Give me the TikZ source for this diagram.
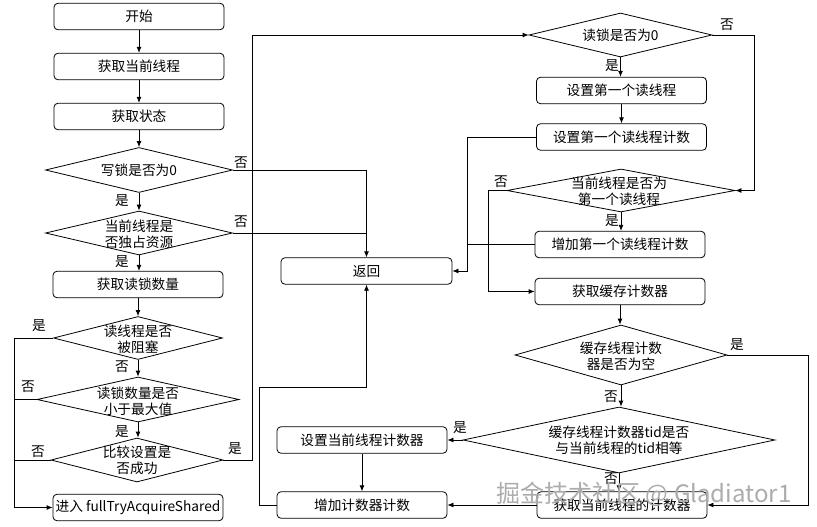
\documentclass[tikz,border=0pt]{standalone}
\usepackage{fontspec}
\setmainfont{Noto Sans CJK SC}
\usetikzlibrary{shapes.geometric,arrows.meta}
\newcommand{\fs}{\fontsize{13.7}{16}\selectfont}
\begin{document}
\begin{tikzpicture}[x=1pt,y=-1pt,
  box/.style={draw, rounded corners=4pt, minimum width=170pt, minimum height=26.5pt, inner sep=0pt, font=\fs, line width=0.8pt},
  dia/.style={draw, diamond, inner sep=0pt, line width=0.8pt},
  txt/.style={align=center, font=\fs, inner sep=0pt},
  lbl/.style={font=\fs, inner sep=0pt},
  ln/.style={draw, line width=0.8pt},
  arr/.style={ln, -{Latex[length=6pt,width=5pt]}}
]
\useasboundingbox (0,0) rectangle (817,527);
\fill[white] (0,0) rectangle (817,527);

% left column
\node[box] (start) at (139,16.5) {开始};
\node[box] (thr) at (139,66.5) {获取当前线程};
\node[box] (st) at (139,116.5) {获取状态};
\node[dia, minimum width=187pt, minimum height=45pt] (d1) at (139,170) {};
\node[txt] (d1t) at (139,170) {写锁是否为0};
\node[dia, minimum width=187pt, minimum height=44pt] (d2) at (139,233) {};
\node[txt] (d2t) at (139,234) {当前线程是\\否独占资源};
\node[box] (rc) at (138,284.5) {获取读锁数量};
\node[dia, minimum width=169pt, minimum height=43pt] (d3) at (138,338) {};
\node[txt] (d3t) at (138,339) {读线程是否\\被阻塞};
\node[dia, minimum width=202pt, minimum height=45pt] (d4) at (138,399.5) {};
\node[txt] (d4t) at (138,401) {读锁数量是否\\小于最大值};
\node[dia, minimum width=172pt, minimum height=44pt] (d5) at (137,460) {};
\node[txt] (d5t) at (137,460.5) {比较设置是\\否成功};
\node[box] (ent) at (138,507.5) {进入 fullTryAcquireShared};

% middle column
\node[box, minimum width=171pt] (ret) at (366.5,271) {返回};
\node[box] (sc) at (362,440) {设置当前线程计数器};
\node[box] (ic) at (362,505) {增加计数器计数};

% right column
\node[dia, minimum width=183pt, minimum height=44pt] (d6) at (620.5,35) {};
\node[txt] (d6t) at (620.5,35) {读锁是否为0};
\node[box] (sf) at (621.5,90.5) {设置第一个读线程};
\node[box] (sfc) at (621.5,137) {设置第一个读线程计数};
\node[dia, minimum width=228pt, minimum height=43pt] (d7) at (621,190.5) {};
\node[txt] (d7t) at (619,191) {当前线程是否为\\第一个读线程};
\node[box] (ifc) at (620,244.5) {增加第一个读线程计数};
\node[box] (gc) at (620,291.5) {获取缓存计数器};
\node[dia, minimum width=212pt, minimum height=60pt] (d8) at (621,355) {};
\node[txt] (d8t) at (621,356) {缓存线程计数\\器是否为空};
\node[dia, minimum width=312pt, minimum height=66pt] (d9) at (619,440) {};
\node[txt] (d9t) at (619,440.5) {缓存线程计数器tid是否\\与当前线程的tid相等};
\node[box] (gcur) at (622,505) {获取当前线程的计数器};

% connectors left
\draw[arr] (start) -- (thr);
\draw[arr] (thr) -- (st);
\draw[arr] (st) -- (d1.north);
\draw[arr] (d1.south) -- (d2.north);
\draw[arr] (d2.south) -- (d2.south |- rc.north);
\draw[arr] (d1.east) -| (ret.north);
\draw[ln] (d2.east) -- (d2.east -| ret.north);
\draw[arr] (rc) -- (d3.north);
\coordinate (lx) at (14,0);
\draw[arr] (d3.west) -- (d3.west -| lx) -- (ent.west -| lx) -- (ent.west);
\draw[arr] (d3.south) -- (d4.north);
\draw[ln] (d4.west) -- (d4.west -| lx);
\draw[arr] (d4.south) -- (d4.south |- d5.north);
\draw[ln] (d5.west) -- (d5.west -| lx);
\coordinate (ux) at (252,0);
\draw[arr] (d5.east) -- (d5.east -| ux) -- (d6.west -| ux) -- (d6.west);

% connectors right
\draw[arr] (d6.south) -- (d6.south |- sf.north);
\draw[arr] (sf) -- (sfc);
\coordinate (mx) at (467,0);
\draw[arr] (sfc.west) -- (sfc.west -| mx) -- (ret.east -| mx) -- (ret.east);
\draw[ln] (ifc.west) -- (ifc.west -| mx);
\coordinate (rx) at (754,0);
\draw[arr] (d6.east) -- (d6.east -| rx) -- (d7.east -| rx) -- (d7.east);
\draw[arr] (d7.south) -- (d7.south |- ifc.north);
\coordinate (qx) at (488,0);
\draw[arr] (d7.west) -- (d7.west -| qx) -- (gc.west -| qx) -- (gc.west);
\draw[arr] (gc.south) -- (gc.south |- d8.north);
\draw[arr] (d8.south) -- (d8.south |- d9.north);
\coordinate (ex) at (808,0);
\draw[arr] (d8.east) -- (d8.east -| ex) -- (gcur.east -| ex) -- (gcur.east);
\draw[arr] (d9.south) -- (d9.south |- gcur.north);
\draw[arr] (d9.west) -- (sc.east);
\draw[arr] (sc) -- (ic);
\draw[arr] (gcur.west) -- (ic.east);
\coordinate (bx) at (259,387);
\draw[arr] (ic.west) -- (ic.west -| bx) -- (bx) -- (bx -| ret.south) -- (ret.south);

% labels
\node[lbl] (l1) at (241,163) {否};
\node[lbl] (l2) at (241,222) {否};
\node[lbl] (l3) at (122,201) {是};
\node[lbl] (l4) at (122,262) {是};
\node[lbl] (l5) at (39,326) {是};
\node[lbl] (l6) at (122,367) {否};
\node[lbl] (l7) at (28,387) {否};
\node[lbl] (l8) at (122,432) {是};
\node[lbl] (l9) at (38,452) {否};
\node[lbl] (l10) at (235,449) {是};
\node[lbl] (l11) at (727,25) {否};
\node[lbl] (l12) at (612,66) {是};
\node[lbl] (l13) at (501,182) {否};
\node[lbl] (l14) at (612,221) {是};
\node[lbl] (l15) at (737,345) {是};
\node[lbl] (l16) at (611,397) {否};
\node[lbl] (l17) at (611,479) {否};
\node[lbl] (l18) at (460,428) {是};

% watermark
\node[font=\fontsize{24}{26}\selectfont, text=gray!65, inner sep=0pt] (wm) at (644,494) {掘金技术社区 @ Gladiator1};
\end{tikzpicture}
\end{document}
